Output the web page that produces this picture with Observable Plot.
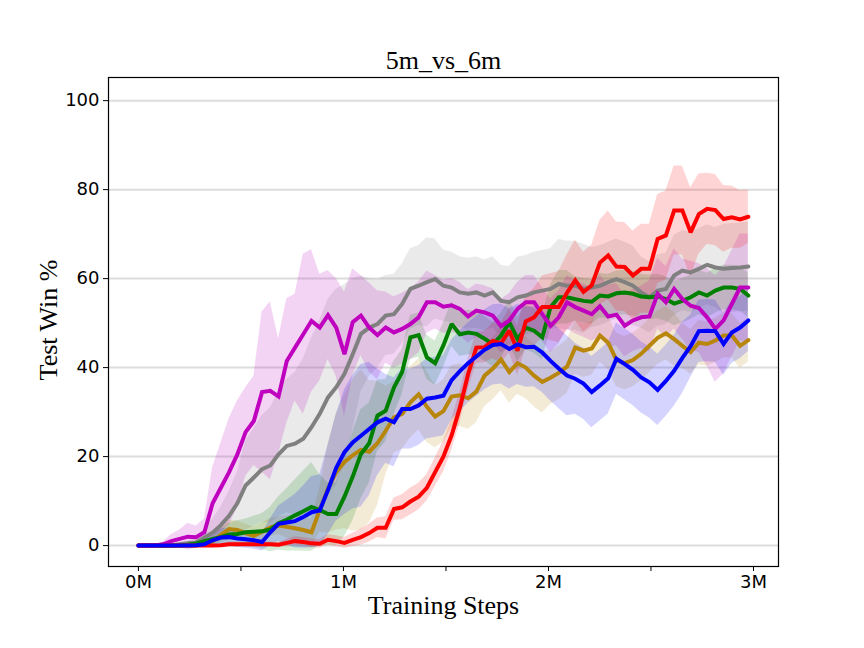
<!DOCTYPE html>
<html>
<head>
<meta charset="utf-8">
<script src="https://cdn.jsdelivr.net/npm/d3@7"></script>
<script src="https://cdn.jsdelivr.net/npm/@observablehq/plot@0.6"></script>
<style>
  html, body { margin: 0; padding: 0; background: #fff; }
  #chart { width: 864px; height: 648px; }
</style>
</head>
<body>
<div id="chart"></div>
<script>
// Training steps (one evaluation every ~40.2k steps, 75 points)
const steps = d3.range(75).map(i => i * 40200);

const xTicks = [0, 500000, 1000000, 1500000, 2000000, 2500000, 3000000];
const yTicks = [0, 20, 40, 60, 80, 100];

const red = [0,0,0,0,0,0,0,0,0,0, 0.1,0.3,0.3,0.3,0.3,0.3,0.3,0.2,0.6,1.0, 0.8,0.5,0.4,1.3,1.0,0.6,1.3,1.9,2.8,4.0, 4.0,8.2,8.6,9.9,11.0,13.0,16.5,20.0,24.8,31.0, 38.5,44.5,44.6,46.0,45.5,48.3,43.8,50.4,51.3,53.6, 53.6,53.6,56.8,59.6,57.0,58.5,63.6,65.2,62.7,62.6, 60.7,62.2,62.2,68.9,69.7,75.3,75.3,70.4,74.5,75.7, 75.4,73.4,73.8,73.3,73.9];
const redSpread = [0,0,0,0,0,0,0,0,0,0, 0.3,0.5,0.5,0.5,0.5,0.5,0.5,0.5,0.8,1, 1,1,1,1.2,1.2,1.2,1.5,1.8,2,2.2, 2.5,2.5,2.8,3,3,3,3.2,3.5,3.5,3.5, 3.5,3.5,3.5,4,4.5,5,5.5,6,6.5,7, 7.5,8,8.5,9,9,9,9.5,10,10,10, 10,10,10,10,10,10,10,10,9,8, 8,7.5,7,6.5,6];

const grey = [0,0,0,0,0,0.3,0.5,0.7,1.8,2.9, 4.6,6.7,9.5,13.5,15.3,17.2,18.0,20.5,22.4,22.9, 24.0,26.6,29.6,33.3,35.6,38.6,43.0,47.6,49.0,49.8, 51.7,52.0,54.3,57.7,58.4,59.2,59.9,58.4,58.0,56.9, 56.6,56.9,56.2,56.9,55.0,54.7,55.8,56.2,56.9,57.3, 57.7,58.8,58.4,58.4,57.7,58.0,58.4,59.2,59.9,59.2, 58.4,56.9,55.8,57.3,57.7,60.7,61.8,61.4,62.2,63.1, 62.5,62.2,62.4,62.5,62.7];
const greySpread = [0,0,0,0,0,0.3,0.5,1,2,3, 4,5.5,7,10,11,12,13,14,15,16, 18,20,21,22,22,20,17,13,11,10, 9,9,9,9,9,10,9,8,8,8, 8,8,8,8,8,8,9,9,9,9, 9,10,10,10,10,9,9,9,9,9, 9,8,8,8,8,9,9,9,9,9, 9,10,10,10,10];

const magenta = [0,0,0,0.3,1.0,1.5,2.0,1.9,3.0,9.5, 13.0,16.5,20.5,25.5,28.0,34.5,34.8,33.5,41.5,44.5, 47.5,50.5,49.0,51.8,49.0,43.0,50.2,51.7,49.0,47.3, 49.0,47.9,48.7,49.8,51.3,54.7,54.7,53.7,54.0,53.2, 51.5,52.8,52.4,51.7,49.3,50.6,53.2,54.7,54.7,52.0, 49.4,51.3,54.7,53.6,52.8,52.0,53.8,51.5,51.9,49.4, 50.6,51.3,51.5,56.6,54.7,57.7,55.4,53.9,53.4,51.3, 48.7,50.6,54.3,58.0,58.0];
const magentaSpread = [0,0,0,0.5,1.5,2,3,2.5,3,8, 10,12,12,10,10,18,20,13,14,12, 18,16,12,10,11,14,12,9,10,10, 8,8,8,8,8,7,6,6,6,6, 6,6,6,6,6,6,6,6,6,6, 6,6,6,6,6,6,7,7,7,7, 7,7,8,8,8,9,9,10,10,11, 12,12,12,12,12];

const green = [0,0,0,0,0,0,0.2,0.5,1.0,1.5, 1.9,2.5,2.6,3.0,3.1,3.2,3.6,5.0,5.8,6.8, 7.7,8.7,8.0,7.1,7.1,11.0,15.5,20.6,23.0,29.2, 30.3,35.5,39.0,46.8,47.3,42.3,41.0,45.0,49.8,47.5, 47.9,47.6,46.5,45.2,47.2,50.2,46.4,49.0,48.3,46.8, 53.6,55.8,55.8,55.4,55.0,54.8,56.2,56.0,56.7,56.9, 56.6,56.0,55.8,56.0,55.4,54.4,55.0,55.8,56.9,56.2, 57.3,58.0,58.0,57.7,56.2];
const greenSpread = [0,0,0,0,0,0,0.3,0.5,1,1.5, 2,2.5,3,3,3.5,4,5,6,7,8, 9,10,8,7,7,9,10,10,9,8, 7,6,5,5,5,5,5,5,5,5, 5,5,5,5,5,5,5,5,5,5, 5,6,6,5,5,5,5,5,5,5, 5,5,5,5,5,5,5,5,5,5, 5,5,5,5,5];

const blue = [0,0,0,0,0,0,0,0.1,0.3,1.2, 1.8,1.9,1.6,1.4,1.2,0.8,3.0,4.9,5.2,5.5, 6.4,7.5,7.9,12.5,17.5,21.0,23.2,24.7,26.2,27.7, 28.5,27.7,30.7,30.7,31.5,33.0,33.3,33.7,37.2,39.2, 41.0,42.5,44.0,45.1,45.3,44.2,45.2,44.6,44.7,43.4, 41.5,39.8,38.2,37.5,36.4,34.5,36.0,37.6,42.0,40.8, 39.5,37.8,36.7,35.0,37.0,39.3,42.2,44.8,48.2,48.3, 48.2,45.3,47.9,49.0,50.6];
const blueSpread = [0,0,0,0,0,0,0,0.3,0.5,1.5, 2,2,2,2,2,2,3,4,5,6, 7,8,8,10,12,14,15,16,15,12, 10,10,9,9,9,9,9,9,9,9, 9,9,9,9,9,9,9,9,9,9, 9,9,9,8,8,8,8,8,8,8, 8,8,8,8,8,8,8,7,7,7, 7,7,7,7,7];

const gold = [0,0,0,0,0,0,0,0,0.3,1.0, 2.4,3.7,3.5,2.8,2.2,3.1,4.1,4.5,4.2,3.9, 3.5,3.0,8.0,12.8,16.5,18.8,20.3,21.5,21.1,23.0, 25.8,28.8,29.6,32.2,34.0,31.2,29.0,30.2,33.5,33.8, 33.1,34.6,38.2,39.8,41.8,39.0,41.0,40.0,38.2,36.8, 37.7,38.8,40.2,44.5,43.8,44.3,47.2,45.6,41.7,41.0, 41.7,43.1,44.9,46.7,47.7,46.4,44.9,43.5,45.6,45.3, 46.1,47.2,47.2,44.9,46.2];
const goldSpread = [0,0,0,0,0,0,0,0,0.3,1, 1.5,2,2,2,2,2,2,2,2.5,3, 3,3,5,10,13,15,17,18,16,14, 10,8,8,8,8,8,7,7,7,7, 7,7,7,7,7,7,7,7,7,7, 6,6,6,6,6,6,6,6,6,6, 6,6,6,6,6,6,5,5,5,5, 5,5,5,5,5];

const seriesNames = ["grey", "gold", "green", "magenta", "red", "blue"];
const seriesColors = ["#808080", "#b8860b", "#008000", "#bf00bf", "#ff0000", "#0000ff"];
const seriesMeans = [grey, gold, green, magenta, red, blue];
const seriesSpreads = [greySpread, goldSpread, greenSpread, magentaSpread, redSpread, blueSpread];

const tables = seriesNames.map((name, k) =>
  steps.map((s, i) => ({
    series: name,
    step: s,
    v: seriesMeans[k][i],
    lo: seriesMeans[k][i] - seriesSpreads[k][i],
    hi: seriesMeans[k][i] + seriesSpreads[k][i]
  }))
);

const bandMarks = tables.map((t, k) =>
  Plot.areaY(t, {x: "step", y1: "lo", y2: "hi", fill: seriesColors[k], fillOpacity: 0.17})
);
const lineMarks = tables.map((t, k) =>
  Plot.lineY(t, {x: "step", y: "v", stroke: seriesColors[k], strokeWidth: 4, strokeLinejoin: "miter", strokeMiterlimit: 2})
);

const serif = "'Liberation Serif', 'Times New Roman', serif";
const sans = "'DejaVu Sans', sans-serif";

const chart = Plot.plot({
  width: 864,
  height: 648,
  marginLeft: 108,
  marginRight: 86,
  marginTop: 77,
  marginBottom: 82,
  style: {background: "#fff", fontFamily: sans, fontSize: "18px", color: "#000"},
  x: {domain: [-146000, 3122000]},
  y: {domain: [-4.7, 105.2]},
  marks: [
    Plot.gridY(yTicks, {stroke: "#dcdcdc", strokeOpacity: 1, strokeWidth: 2}),
    ...bandMarks,
    ...lineMarks,
    Plot.frame({stroke: "#000", strokeWidth: 1.2}),
    Plot.axisX(xTicks, {
      tickSize: 5, tickPadding: 4, label: null, fontSize: 18, fontFamily: sans,
      tickFormat: d => (d % 1000000 === 0 ? `${d / 1000000}M` : "")
    }),
    Plot.axisY(yTicks, {tickSize: 5, tickPadding: 4, label: null, fontSize: 18, fontFamily: sans}),
    Plot.text(["5m_vs_6m"], {frameAnchor: "top", textAnchor: "middle", lineAnchor: "bottom", dy: -9, fontSize: 26, fontFamily: serif, fill: "#000"}),
    Plot.text(["Training Steps"], {frameAnchor: "bottom", textAnchor: "middle", lineAnchor: "bottom", dy: 47, fontSize: 26, fontFamily: serif, fill: "#000"}),
    Plot.text(["Test Win %"], {frameAnchor: "left", textAnchor: "middle", lineAnchor: "bottom", rotate: -90, dx: -52, dy: -2, fontSize: 26, fontFamily: serif, fill: "#000"})
  ]
});
document.getElementById("chart").appendChild(chart);
</script>
</body>
</html>
